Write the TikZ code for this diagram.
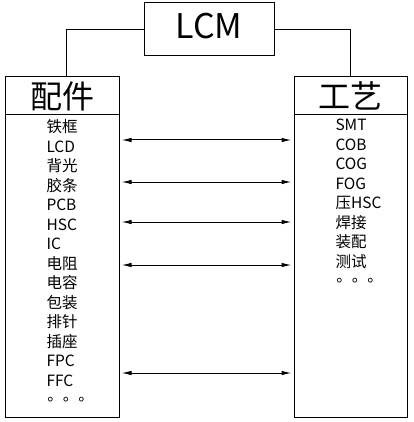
\documentclass[tikz,border=0pt]{standalone}
\usepackage{fontspec}
\setmainfont{Noto Sans CJK SC}
\newfontfamily\dotfont{Noto Sans CJK TC}
\usetikzlibrary{arrows.meta}

\begin{document}
\begin{tikzpicture}[x=1pt,y=-1pt,line width=1pt]
        \tikzset{box/.style = {shape=rectangle,draw,inner sep=0pt}}
        \tikzset{item/.style = {anchor=west,inner sep=0pt,text height=12pt,text depth=1pt,font=\fontsize{15.5}{18}\selectfont}}
        \tikzset{edge/.style = {{Latex[length=10pt,width=4.5pt]}-{Latex[length=10pt,width=4.5pt]},shorten <=2pt,shorten >=2pt}}
        \useasboundingbox (0,0) rectangle (413,422);
        \node[box,minimum width=130pt,minimum height=53pt,text depth=7pt,font=\fontsize{34}{40}\selectfont] (lcm) at (209,29.5) {LCM};
        \node[box,minimum width=114pt,minimum height=38pt,font=\fontsize{32}{36}\selectfont] (parts) at (62,96) {配件};
        \node[box,minimum width=114pt,minimum height=302pt] (partlist) at (62,266) {};
        \node[box,minimum width=113pt,minimum height=38pt,font=\fontsize{32}{36}\selectfont] (craft) at (350.5,96) {工艺};
        \node[box,minimum width=113pt,minimum height=302pt] (craftlist) at (350.5,266) {};
        \draw (lcm.west) -| ([xshift=4pt]parts.north);
        \draw (lcm.east) -| (craft.north);
        % left column
        \foreach \t [count=\i] in {铁框,LCD,背光,胶条,PCB,HSC,IC,电阻,电容,包装,排针,插座,FPC,FFC,{\dotfont\hspace{-4pt}。。。}}
            \node[item] (p\i) at (46,{107.5+19.5*\i}) {\t};
        % right column
        \foreach \t [count=\i] in {SMT,COB,COG,FOG,压HSC,焊接,装配,测试,{\dotfont\hspace{-4pt}。。。}}
            \node[item] (c\i) at (335,{105.5+19.5*\i}) {\t};
        \foreach \y in {140,182,222,265,373}
            \draw[edge] (partlist.east |- 0,\y) -- (craftlist.west |- 0,\y);
    \end{tikzpicture}
\end{document}
